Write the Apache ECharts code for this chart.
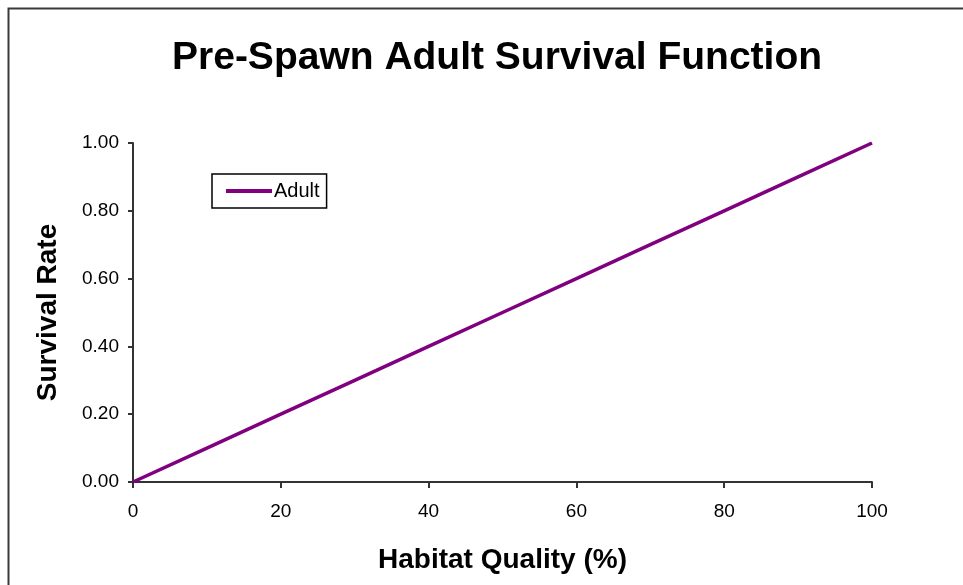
<!DOCTYPE html>
<html>
<head>
<meta charset="utf-8">
<script src="https://cdn.jsdelivr.net/npm/echarts@6/dist/echarts.min.js"></script>
<style>html,body{margin:0;padding:0;background:#fff}#c{width:963px;height:585px}</style>
</head>
<body>
<div id="c"></div>
<script>
var habitat = [0, 10, 20, 30, 40, 50, 60, 70, 80, 90, 100];
var adult = [0, 0.1, 0.2, 0.3, 0.4, 0.5, 0.6, 0.7, 0.8, 0.9, 1.0];
var titleText = 'Pre-Spawn Adult Survival Function';
var xName = 'Habitat Quality (%)';
var yName = 'Survival Rate';
var seriesName = 'Adult';

var chart = echarts.init(document.getElementById('c'), null, {renderer: 'canvas'});
var font = 'Liberation Sans, Arial, sans-serif';
chart.setOption({
  backgroundColor: '#fff',
  animation: false,
  graphic: [{
    type: 'rect', silent: true,
    shape: {x: 8.5, y: 8.5, width: 1000, height: 1000},
    style: {fill: 'none', stroke: '#3a3a3a', lineWidth: 2}
  }],
  title: {
    text: titleText, left: 167, top: 34,
    textStyle: {fontFamily: font, fontSize: 39, fontWeight: 'bold', color: '#000'}
  },
  legend: {
    left: 212, top: 174,
    orient: 'vertical',
    data: [{name: seriesName, icon: 'rect'}],
    itemWidth: 46, itemHeight: 4, itemGap: 0,
    padding: [7, 7, 7, 14],
    borderColor: '#000', borderWidth: 1.5,
    textStyle: {fontFamily: font, fontSize: 20, color: '#000', padding: [0, 0, 0, -3]}
  },
  grid: {left: 133, right: 91, top: 143, bottom: 103, containLabel: false},
  xAxis: {
    type: 'value', min: 0, max: 100, interval: 20,
    name: xName, nameLocation: 'middle', nameGap: 64,
    nameTextStyle: {fontFamily: font, fontSize: 28, fontWeight: 'bold', color: '#000'},
    axisLine: {lineStyle: {color: '#333', width: 2}},
    axisTick: {show: true, length: 6, lineStyle: {color: '#333', width: 2}},
    axisLabel: {fontFamily: font, fontSize: 19, color: '#000', margin: 20},
    splitLine: {show: false}
  },
  yAxis: {
    type: 'value', min: 0, max: 1, interval: 0.2,
    name: yName, nameLocation: 'middle', nameGap: 71,
    nameTextStyle: {fontFamily: font, fontSize: 28, fontWeight: 'bold', color: '#000'},
    axisLine: {show: true, lineStyle: {color: '#333', width: 2}},
    axisTick: {show: true, length: 5, lineStyle: {color: '#333', width: 2}},
    axisLabel: {fontFamily: font, fontSize: 19, color: '#000', margin: 14,
      formatter: function (v) { return v.toFixed(2); }},
    splitLine: {show: false}
  },
  series: [{
    name: seriesName, type: 'line',
    data: habitat.map(function (h, i) { return [h, adult[i]]; }),
    showSymbol: false, symbol: 'none',
    lineStyle: {color: '#800080', width: 3.5},
    itemStyle: {color: '#800080'}
  }]
});
</script>
</body>
</html>
